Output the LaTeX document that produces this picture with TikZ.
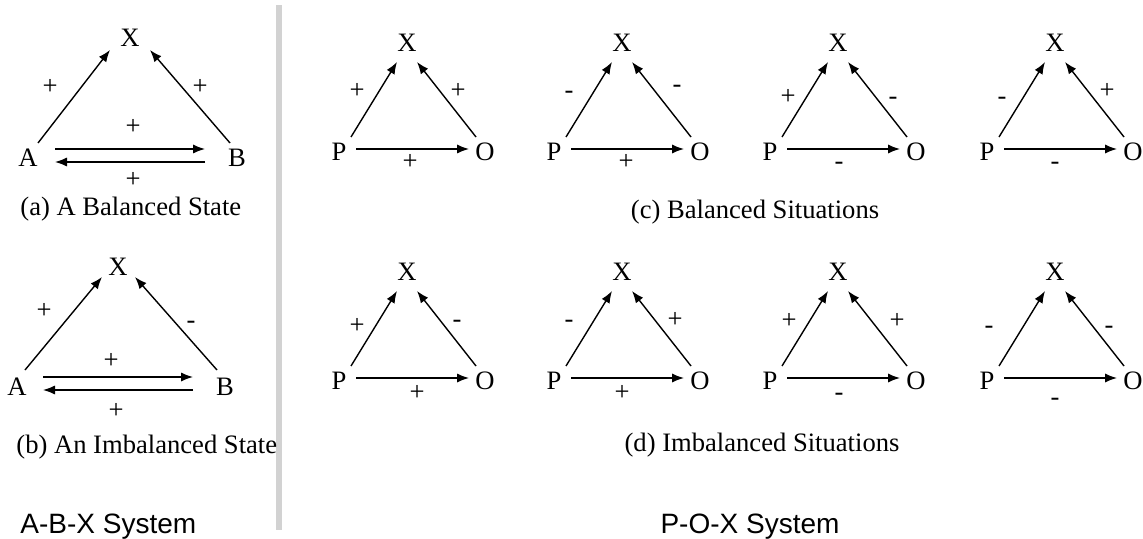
\documentclass[tikz,border=0pt]{standalone}
\usepackage{fontspec}
\setmainfont{Liberation Serif}
\newfontfamily\sysfont{Liberation Sans}
\usetikzlibrary{arrows.meta,calc}
\newcommand\poxtri[3]{%
  \node[ltr] (X#1) at (#2,#3) {X};
  \node[ltr] (P#1) at (#2-68,#3+109) {P};
  \node[ltr] (O#1) at (#2+78,#3+109) {O};
  \draw[arr] ($(P#1)+(12,-15)$) -- ($(X#1)+(-10,19)$);
  \draw[arr] ($(O#1)+(-9,-15)$) -- ($(X#1)+(10,19)$);
  \draw[arr] ($(P#1)+(17,-3)$) -- ($(O#1)+(-16,-3)$);
}
\begin{document}
\begin{tikzpicture}[x=0.5pt,y=-0.5pt,
  every node/.style={font=\fontsize{13.3}{15}\selectfont, inner sep=0pt},
  ltr/.style={},
  sgn/.style={text height=0.5em, text depth=0pt},
  arr/.style={line width=0.7pt, -{Latex[length=6pt,width=4.6pt]}},
  capt/.style={anchor=west},
  sys/.style={font=\sysfont\fontsize{14}{16}\selectfont}]
\useasboundingbox (0,0) rectangle (1143,539);

% divider
\fill[gray!35] (276,5) rectangle (282,530);

% ---- panel (a)
\node[ltr] (aX) at (130,38) {X};
\node[ltr] (aA) at (28,158) {A};
\node[ltr] (aB) at (237,158) {B};
\draw[arr] ($(aA)+(10,-15)$) -- ($(aX)+(-20,12)$);
\draw[arr] ($(aB)+(-7,-15)$) -- ($(aX)+(20,12)$);
\draw[arr] ($(aA)+(27,-9)$) -- ($(aB)+(-32,-9)$);
\draw[arr] ($(aB)+(-32,4)$) -- ($(aA)+(27,4)$);
\node[sgn] (aL) at (50,90) {+};
\node[sgn] (aR) at (200,90) {+};
\node[sgn] (aT) at (133,130) {+};
\node[sgn] (aD) at (133,183) {+};
\node[capt] (aC) at (20,209) {(a) A Balanced State};

% ---- panel (b)
\node[ltr] (bX) at (118,267) {X};
\node[ltr] (bA) at (17,387) {A};
\node[ltr] (bB) at (225,387) {B};
\draw[arr] ($(bA)+(8,-17)$) -- ($(bX)+(-16,10)$);
\draw[arr] ($(bB)+(-8,-17)$) -- ($(bX)+(17,10)$);
\draw[arr] ($(bA)+(26,-10)$) -- ($(bB)+(-32,-10)$);
\draw[arr] ($(bB)+(-32,3)$) -- ($(bA)+(26,3)$);
\node[sgn] (bL) at (44,313) {+};
\node[sgn] (bR) at (191,323) {-};
\node[sgn] (bT) at (111,363) {+};
\node[sgn] (bD) at (116,413) {+};
\node[capt] (bC) at (16,447) {(b) An Imbalanced State};

\node[sys,anchor=west] (abx) at (20,527) {A-B-X System};

% ---- panel (c)
\poxtri{1}{407}{43}
\poxtri{2}{622}{43}
\poxtri{3}{838}{43}
\poxtri{4}{1055}{43}
\node[sgn] at (357,94) {+};
\node[sgn] at (458,94) {+};
\node[sgn] at (410,165) {+};
\node[sgn] at (569,94) {-};
\node[sgn] at (677,88) {-};
\node[sgn] at (626,165) {+};
\node[sgn] at (788,100) {+};
\node[sgn] at (893,100) {-};
\node[sgn] at (839,165) {-};
\node[sgn] at (1002,100) {-};
\node[sgn] at (1107,94) {+};
\node[sgn] at (1055,165) {-};
\node (cC) at (755,212) {(c) Balanced Situations};

% ---- panel (d)
\poxtri{5}{407}{272}
\poxtri{6}{622}{272}
\poxtri{7}{838}{272}
\poxtri{8}{1055}{272}
\node[sgn] at (357,328) {+};
\node[sgn] at (457,322) {-};
\node[sgn] at (417,395) {+};
\node[sgn] at (569,322) {-};
\node[sgn] at (675,322) {+};
\node[sgn] at (622,395) {+};
\node[sgn] at (789,323) {+};
\node[sgn] at (897,323) {+};
\node[sgn] at (839,395) {-};
\node[sgn] at (989,328) {-};
\node[sgn] at (1109,328) {-};
\node[sgn] at (1055,400) {-};
\node (dC) at (762,445) {(d) Imbalanced Situations};

\node[sys] (pox) at (750,527) {P-O-X System};
\end{tikzpicture}
\end{document}
